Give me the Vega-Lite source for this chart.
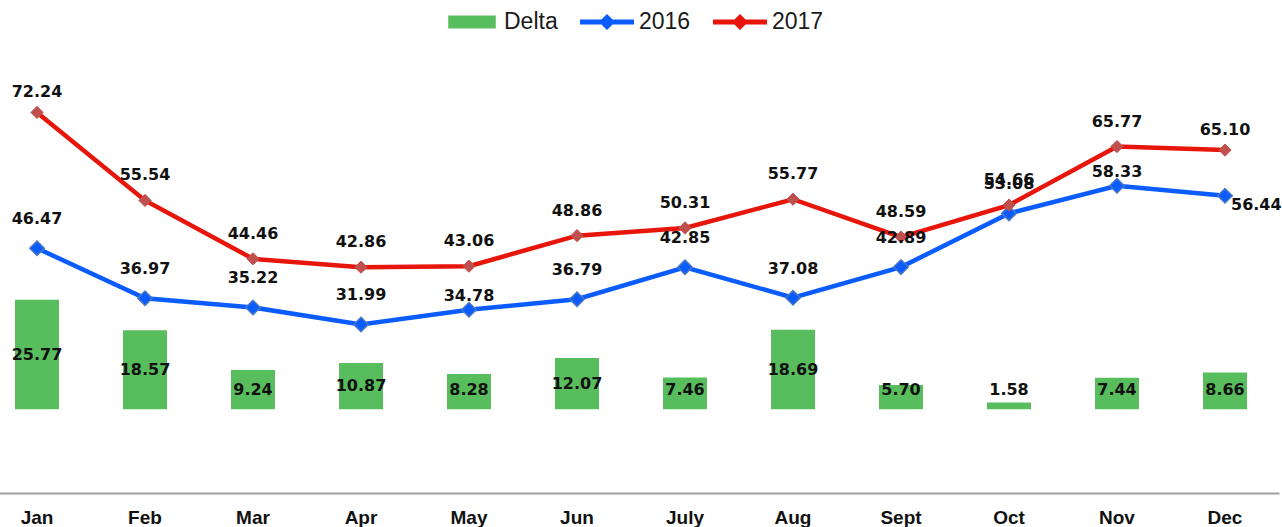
{
  "$schema": "https://vega.github.io/schema/vega-lite/v6.json",
  "width": 1282,
  "height": 453,
  "autosize": {"type": "none"},
  "padding": {"left": 0, "right": 0, "top": 40, "bottom": 34},
  "background": "white",
  "config": {
    "view": {"stroke": null},
    "legend": {
      "symbolSize": 2916,
      "labelFont": "Liberation Sans",
      "labelFontSize": 23,
      "labelColor": "#1a1a1a",
      "labelOffset": 5,
      "columnPadding": 22,
      "symbolOpacity": 1,
      "symbolStrokeWidth": 0
    }
  },
  "data": {
    "values": [
      {"month": "Jan", "series": "Delta", "value": 25.77},
      {"month": "Feb", "series": "Delta", "value": 18.57},
      {"month": "Mar", "series": "Delta", "value": 9.24},
      {"month": "Apr", "series": "Delta", "value": 10.87},
      {"month": "May", "series": "Delta", "value": 8.28},
      {"month": "Jun", "series": "Delta", "value": 12.07},
      {"month": "July", "series": "Delta", "value": 7.46},
      {"month": "Aug", "series": "Delta", "value": 18.69},
      {"month": "Sept", "series": "Delta", "value": 5.70},
      {"month": "Oct", "series": "Delta", "value": 1.58},
      {"month": "Nov", "series": "Delta", "value": 7.44},
      {"month": "Dec", "series": "Delta", "value": 8.66},
      {"month": "Jan", "series": "2016", "value": 46.47},
      {"month": "Feb", "series": "2016", "value": 36.97},
      {"month": "Mar", "series": "2016", "value": 35.22},
      {"month": "Apr", "series": "2016", "value": 31.99},
      {"month": "May", "series": "2016", "value": 34.78},
      {"month": "Jun", "series": "2016", "value": 36.79},
      {"month": "July", "series": "2016", "value": 42.85},
      {"month": "Aug", "series": "2016", "value": 37.08},
      {"month": "Sept", "series": "2016", "value": 42.89},
      {"month": "Oct", "series": "2016", "value": 53.08},
      {"month": "Nov", "series": "2016", "value": 58.33},
      {"month": "Dec", "series": "2016", "value": 56.44},
      {"month": "Jan", "series": "2017", "value": 72.24},
      {"month": "Feb", "series": "2017", "value": 55.54},
      {"month": "Mar", "series": "2017", "value": 44.46},
      {"month": "Apr", "series": "2017", "value": 42.86},
      {"month": "May", "series": "2017", "value": 43.06},
      {"month": "Jun", "series": "2017", "value": 48.86},
      {"month": "July", "series": "2017", "value": 50.31},
      {"month": "Aug", "series": "2017", "value": 55.77},
      {"month": "Sept", "series": "2017", "value": 48.59},
      {"month": "Oct", "series": "2017", "value": 54.66},
      {"month": "Nov", "series": "2017", "value": 65.77},
      {"month": "Dec", "series": "2017", "value": 65.10}
    ]
  },
  "encoding": {
    "x": {
      "field": "month",
      "type": "nominal",
      "sort": ["Jan", "Feb", "Mar", "Apr", "May", "Jun", "July", "Aug", "Sept", "Oct", "Nov", "Dec"],
      "scale": {"range": [-17, 1279], "paddingInner": 0, "paddingOuter": 0},
      "axis": {
        "title": null,
        "labelAngle": 0,
        "ticks": false,
        "grid": false,
        "domainColor": "#A0A0A0",
        "domainWidth": 2,
        "labelFont": "Liberation Sans",
        "labelFontWeight": "bold",
        "labelFontSize": 19,
        "labelColor": "#111111",
        "labelPadding": 15,
        "labelBaseline": "top"
      }
    }
  },
  "layer": [
    {
      "mark": {"type": "point", "filled": true, "opacity": 0},
      "encoding": {
        "y": {"field": "value", "type": "quantitative", "scale": {"domain": [0, 86]}, "axis": null},
        "color": {
          "field": "series",
          "type": "nominal",
          "scale": {"domain": ["Delta", "2016", "2017"], "range": ["#58BD5C", "#0A5CFF", "#E8150A"]},
          "legend": {"title": null, "orient": "none", "direction": "horizontal", "legendX": 445, "legendY": -45}
        },
        "shape": {
          "field": "series",
          "type": "nominal",
          "scale": {
            "domain": ["Delta", "2016", "2017"],
            "range": [
              "M-0.88,-0.24H0.88V0.24H-0.88Z",
              "M-1,-0.093H-0.207L0,-0.3L0.207,-0.093H1V0.093H0.207L0,0.3L-0.207,0.093H-1Z",
              "M-1,-0.093H-0.207L0,-0.3L0.207,-0.093H1V0.093H0.207L0,0.3L-0.207,0.093H-1Z"
            ]
          },
          "legend": {"title": null, "orient": "none", "direction": "horizontal", "legendX": 445, "legendY": -45}
        }
      }
    },
    {
      "transform": [{"filter": "datum.series === 'Delta'"}],
      "mark": {"type": "bar", "width": 44, "color": "#58BD5C"},
      "encoding": {
        "y": {"field": "value", "type": "quantitative", "scale": {"domain": [-19.7, 86.9], "nice": false, "zero": false}, "axis": null}
      }
    },
    {
      "transform": [{"filter": "datum.series === 'Delta'"}, {"calculate": "max(datum.value / 2, 4.5)", "as": "labelPos"}],
      "mark": {"type": "text", "font": "DejaVu Sans", "fontWeight": "bold", "fontSize": 16, "color": "#111111", "baseline": "middle"},
      "encoding": {
        "y": {"field": "labelPos", "type": "quantitative", "scale": {"domain": [-19.7, 86.9], "nice": false, "zero": false}, "axis": null},
        "text": {"field": "value", "type": "quantitative", "format": ".2f"}
      }
    },
    {
      "transform": [{"filter": "datum.series === '2016'"}],
      "mark": {"type": "line", "color": "#0A5CFF", "strokeWidth": 4.5},
      "encoding": {
        "y": {"field": "value", "type": "quantitative", "scale": {"domain": [0, 86], "nice": false}, "axis": null}
      }
    },
    {
      "transform": [{"filter": "datum.series === '2016'"}],
      "mark": {"type": "point", "shape": "diamond", "filled": true, "size": 210, "fill": "#0A5CFF", "stroke": "#4A78C0", "strokeWidth": 1.5, "opacity": 1},
      "encoding": {
        "y": {"field": "value", "type": "quantitative", "scale": {"domain": [0, 86], "nice": false}, "axis": null}
      }
    },
    {
      "transform": [{"filter": "datum.series === '2017'"}],
      "mark": {"type": "line", "color": "#E8150A", "strokeWidth": 4.5},
      "encoding": {
        "y": {"field": "value", "type": "quantitative", "scale": {"domain": [0, 86], "nice": false}, "axis": null}
      }
    },
    {
      "transform": [{"filter": "datum.series === '2017'"}],
      "mark": {"type": "point", "shape": "diamond", "filled": true, "size": 150, "fill": "#C0504D", "stroke": "#C0504D", "strokeWidth": 1, "opacity": 1},
      "encoding": {
        "y": {"field": "value", "type": "quantitative", "scale": {"domain": [0, 86], "nice": false}, "axis": null}
      }
    },
    {
      "transform": [{"filter": "datum.series === '2016' && datum.month !== 'Dec' && datum.month !== 'Nov' && datum.month !== 'May'"}],
      "mark": {"type": "text", "font": "DejaVu Sans", "fontWeight": "bold", "fontSize": 16, "color": "#111111", "baseline": "middle", "dy": -29},
      "encoding": {
        "y": {"field": "value", "type": "quantitative", "scale": {"domain": [0, 86], "nice": false}, "axis": null},
        "text": {"field": "value", "type": "quantitative", "format": ".2f"}
      }
    },
    {
      "transform": [{"filter": "datum.series === '2016' && (datum.month === 'Nov' || datum.month === 'May')"}],
      "mark": {"type": "text", "font": "DejaVu Sans", "fontWeight": "bold", "fontSize": 16, "color": "#111111", "baseline": "middle", "dy": -14},
      "encoding": {
        "y": {"field": "value", "type": "quantitative", "scale": {"domain": [0, 86], "nice": false}, "axis": null},
        "text": {"field": "value", "type": "quantitative", "format": ".2f"}
      }
    },
    {
      "transform": [{"filter": "datum.series === '2016' && datum.month === 'Dec'"}],
      "mark": {"type": "text", "font": "DejaVu Sans", "fontWeight": "bold", "fontSize": 16, "color": "#111111", "baseline": "middle", "align": "left", "dx": 6, "dy": 9},
      "encoding": {
        "y": {"field": "value", "type": "quantitative", "scale": {"domain": [0, 86], "nice": false}, "axis": null},
        "text": {"field": "value", "type": "quantitative", "format": ".2f"}
      }
    },
    {
      "transform": [{"filter": "datum.series === '2017' && datum.month !== 'Jan' && datum.month !== 'Dec'"}],
      "mark": {"type": "text", "font": "DejaVu Sans", "fontWeight": "bold", "fontSize": 16, "color": "#111111", "baseline": "middle", "dy": -25},
      "encoding": {
        "y": {"field": "value", "type": "quantitative", "scale": {"domain": [0, 86], "nice": false}, "axis": null},
        "text": {"field": "value", "type": "quantitative", "format": ".2f"}
      }
    },
    {
      "transform": [{"filter": "datum.series === '2017' && (datum.month === 'Jan' || datum.month === 'Dec')"}],
      "mark": {"type": "text", "font": "DejaVu Sans", "fontWeight": "bold", "fontSize": 16, "color": "#111111", "baseline": "middle", "dy": -20},
      "encoding": {
        "y": {"field": "value", "type": "quantitative", "scale": {"domain": [0, 86], "nice": false}, "axis": null},
        "text": {"field": "value", "type": "quantitative", "format": ".2f"}
      }
    }
  ],
  "resolve": {"scale": {"y": "independent"}}
}
